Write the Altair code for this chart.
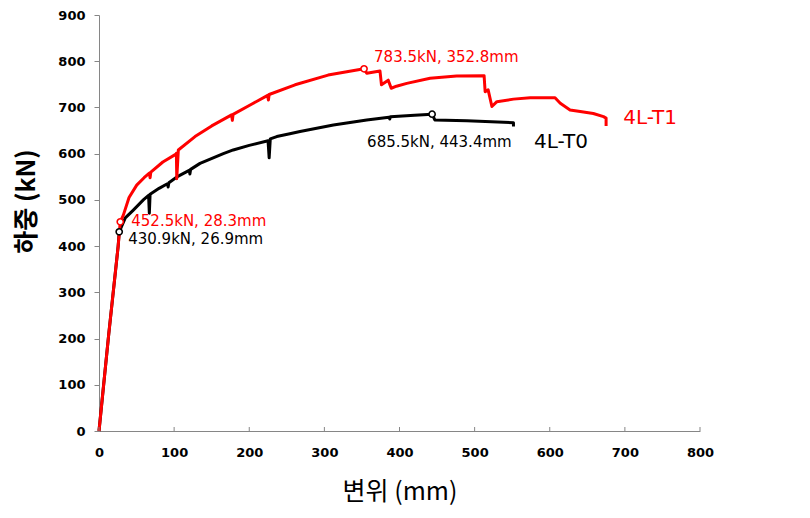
import altair as alt
import pandas as pd

# ---- data ----
SERIES = ["4L-T0", "4L-T1"]
COLORS = ["#000000", "#FF0000"]

T0_X = [0, 13, 25.5, 26.9, 35, 45.7, 59, 66, 67, 68, 80, 91, 92, 93, 105, 120, 121, 122,
        134.5, 165.5, 178.7, 200, 225, 226.5, 228, 236.6, 254, 267.6, 312, 356.4, 386, 387,
        388, 420, 443.4, 447, 489.6, 551.7, 551.7]
T0_Y = [0, 210, 400, 430.9, 461, 478, 500, 510, 471, 512, 525, 535, 528, 537, 551, 564, 556, 566,
        579, 600, 608, 618, 628, 591, 632, 637, 643, 648, 662, 673, 679, 675,
        680, 683, 685.5, 673, 671.4, 667, 659]

T1_X = [0, 13, 25.5, 28.3, 32.4, 40, 50.2, 60, 67, 68, 69, 85, 102.5, 103, 103.5, 105.6,
        127.8, 150, 176.5, 177.5, 178.5, 203, 224.5, 225.5, 226.5, 261, 305, 352.8, 356.4,
        374, 376, 385, 389, 396, 409.7, 440.7, 476, 512.6, 514, 518, 523, 529.6, 551.7, 574,
        607, 614, 627, 640.5, 658, 671.5, 675, 675]
T1_Y = [0, 210, 400, 452.5, 467, 505, 532, 548, 558, 548, 560, 582, 599, 601, 546, 608,
        637, 660, 684, 672, 685, 707, 726, 716, 728, 749, 770, 783.5, 774,
        779, 749, 759, 741.5, 746, 752, 763, 768, 768.7, 734, 738, 702, 712.5, 718, 721,
        721, 709, 694.5, 691, 687, 680, 677, 660]

PEAK_X = [26.9, 28.3, 443.4, 352.8]
PEAK_Y = [430.9, 452.5, 685.5, 783.5]
PEAK_SERIES = ["4L-T0", "4L-T1", "4L-T0", "4L-T1"]
PEAK_LABELS = ["430.9kN, 26.9mm", "452.5kN, 28.3mm", "685.5kN, 443.4mm", "783.5kN, 352.8mm"]

X_TICKS = [0, 100, 200, 300, 400, 500, 600, 700, 800]
Y_TICKS = [0, 100, 200, 300, 400, 500, 600, 700, 800, 900]

X_TITLE = "변위 (mm)"
Y_TITLE = "하중 (kN)"

# ---- tables ----
rows = []
for name, xs, ys in ((SERIES[0], T0_X, T0_Y), (SERIES[1], T1_X, T1_Y)):
    for i, (xv, yv) in enumerate(zip(xs, ys)):
        rows.append({"series": name, "i": i, "x": xv, "y": yv})
curves = pd.DataFrame(rows)
ends = curves.groupby("series").tail(1).reset_index(drop=True)
peaks = pd.DataFrame({"x": PEAK_X, "y": PEAK_Y, "series": PEAK_SERIES, "label": PEAK_LABELS})
ticks_df = pd.DataFrame({"x": X_TICKS, "y": [0] * len(X_TICKS)})

GRAY = "#868686"
color_scale = alt.Scale(domain=SERIES, range=COLORS)

x_axis = alt.Axis(values=X_TICKS, title=X_TITLE, titleFont="Noto Sans CJK KR", titleFontSize=25,
                  titleFontWeight="normal", titleColor="black", titleX=300.5, titleY=60,
                  titleAlign="center", titleBaseline="middle",
                  labelFont="DejaVu Sans", labelFontSize=13, labelFontWeight="bold",
                  labelColor="black", labelFlush=False, labelOverlap=False,
                  labelPadding=21, labelBaseline="middle",
                  ticks=False, tickSize=0, domainColor=GRAY, domainWidth=1, grid=False)
y_axis = alt.Axis(values=Y_TICKS, title=Y_TITLE, titleFont="Noto Sans CJK KR", titleFontSize=25,
                  titleFontWeight="bold", titleColor="black", titleX=-73, titleY=186,
                  titleAngle=-90, titleAlign="center", titleBaseline="middle",
                  labelFont="DejaVu Sans", labelFontSize=13, labelFontWeight="bold",
                  labelColor="black", labelPadding=9, labelOverlap=False,
                  tickSize=5, tickColor=GRAY, domainColor=GRAY, domainWidth=1, grid=False)

X = alt.X("x:Q", scale=alt.Scale(domain=[0, 800], nice=False, zero=False), axis=x_axis)
Y = alt.Y("y:Q", scale=alt.Scale(domain=[0, 900], nice=False, zero=False), axis=y_axis)
C = alt.Color("series:N", scale=color_scale, legend=None)

lines = alt.Chart(curves).mark_line(strokeWidth=3, strokeJoin="round").encode(
    x=X, y=Y, color=C, order=alt.Order("i:Q"))

points = alt.Chart(peaks).mark_point(shape="circle", fill="white", filled=False, opacity=1,
                                     fillOpacity=1, strokeWidth=1.6, size=38).encode(
    x=X, y=Y, stroke=alt.Stroke("series:N", scale=color_scale, legend=None))

inner_ticks = alt.Chart(ticks_df).mark_tick(orient="vertical", size=4, thickness=1,
                                            color=GRAY, yOffset=-2, opacity=1).encode(x=X, y=Y)

# offsets (pixels) for each peak label, in the order of PEAK_LABELS
offsets = [(9, 7), (11, -1), (-65, 28), (10, -12)]
texts = []
for k, (dx, dy) in enumerate(offsets):
    texts.append(alt.Chart(peaks.iloc[[k]]).mark_text(
        align="left", baseline="middle", dx=dx, dy=dy, font="DejaVu Sans", fontSize=15).encode(
        x=X, y=Y, text="label:N", color=C))

end_offsets = {"4L-T0": (47.5, 16), "4L-T1": (44, -7.5)}
for name in SERIES:
    dx, dy = end_offsets[name]
    texts.append(alt.Chart(ends[ends["series"] == name]).mark_text(
        align="center", baseline="middle", dx=dx, dy=dy, font="DejaVu Sans", fontSize=20).encode(
        x=X, y=Y, text="series:N", color=C))

chart = alt.layer(lines, inner_ticks, points, *texts).properties(
    width=601, height=416,
    padding={"left": 91, "top": 7, "right": 100, "bottom": 79},
    autosize=alt.AutoSizeParams(type="none"),
    background="white",
).configure_view(stroke=None)

chart.save("out.html", embed_options={"renderer": "svg", "actions": False})
